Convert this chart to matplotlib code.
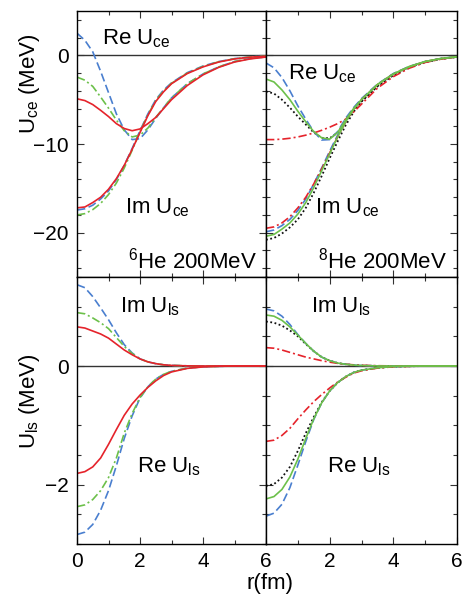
import matplotlib
matplotlib.use('Agg')
import matplotlib.pyplot as plt

plt.rcParams['font.family'] = ['Liberation Sans', 'DejaVu Sans']
plt.rcParams['mathtext.default'] = 'regular'

# radial grid (fm)
r = [0, 0.25, 0.5, 0.75, 1.0, 1.25, 1.5, 1.75, 2.0, 2.25, 2.5, 2.75,
     3.0, 3.5, 4.0, 4.5, 5.0, 5.5, 6.0]

# --- 6He, central part (MeV) ---
he6_re_ce_blue = [2.5, 1.7, 0.4, -1.8, -4.2, -6.6, -8.4, -9.5, -9.4, -8.4, -7.1, -5.9,
                  -4.8, -3.2, -2.1, -1.3, -0.7, -0.35, -0.17]
he6_re_ce_green = [-2.45, -2.8, -3.5, -4.7, -5.95, -7.3, -8.5, -9.2, -9.0, -8.2, -7.0, -5.9,
                   -4.8, -3.2, -2.1, -1.3, -0.7, -0.35, -0.17]
he6_re_ce_red = [-4.9, -5.1, -5.55, -6.2, -6.9, -7.7, -8.25, -8.5, -8.3, -7.7, -7.0, -6.0,
                 -5.0, -3.4, -2.2, -1.35, -0.75, -0.4, -0.19]
he6_im_ce_blue = [-17.45, -17.3, -16.9, -16.2, -15.3, -14.0, -12.4, -10.5, -8.5, -6.6, -5.0, -3.9,
                  -3.1, -1.95, -1.2, -0.7, -0.37, -0.18, -0.09]
he6_im_ce_green = [-18.0, -17.85, -17.4, -16.7, -15.7, -14.4, -12.7, -10.7, -8.6, -6.7, -5.1, -4.0,
                   -3.15, -2.0, -1.25, -0.72, -0.38, -0.18, -0.09]
he6_im_ce_red = [-17.2, -17.1, -16.6, -16.0, -15.1, -13.9, -12.4, -10.6, -8.7, -6.8, -5.2, -4.1,
                 -3.2, -2.05, -1.3, -0.75, -0.4, -0.2, -0.1]

# --- 8He, central part (MeV) ---
he8_re_ce_blue = [-0.86, -1.4, -2.5, -4.0, -5.7, -7.2, -8.6, -9.55, -9.5, -8.6, -7.1, -5.9,
                  -4.9, -3.3, -2.1, -1.3, -0.7, -0.35, -0.15]
he8_re_ce_green = [-2.67, -3.0, -3.9, -5.0, -6.3, -7.5, -8.6, -9.3, -9.45, -8.7, -7.3, -6.0,
                   -5.0, -3.3, -2.1, -1.25, -0.7, -0.35, -0.15]
he8_re_ce_black = [-4.07, -4.3, -5.0, -5.9, -6.9, -7.8, -8.7, -9.3, -9.35, -8.7, -7.5, -6.2,
                   -5.2, -3.5, -2.25, -1.35, -0.75, -0.4, -0.17]
he8_re_ce_red = [-9.5, -9.5, -9.45, -9.35, -9.2, -9.0, -8.75, -8.45, -8.1, -7.7, -7.2, -6.4,
                 -5.5, -3.7, -2.4, -1.45, -0.8, -0.42, -0.18]
he8_im_ce_blue = [-19.9, -19.7, -19.2, -18.5, -17.5, -16.2, -14.5, -12.7, -10.8, -9.0, -7.4, -6.0,
                  -4.9, -3.25, -2.05, -1.25, -0.7, -0.36, -0.16]
he8_im_ce_green = [-20.4, -20.2, -19.6, -18.9, -17.9, -16.6, -14.9, -13.0, -11.1, -9.2, -7.5, -6.1,
                   -5.0, -3.3, -2.1, -1.3, -0.7, -0.37, -0.17]
he8_im_ce_black = [-20.8, -20.6, -20.1, -19.4, -18.5, -17.2, -15.5, -13.6, -11.6, -9.7, -7.9, -6.4,
                   -5.2, -3.45, -2.2, -1.35, -0.75, -0.4, -0.18]
he8_im_ce_red = [-19.5, -19.35, -18.9, -18.2, -17.2, -16.0, -14.5, -12.8, -11.0, -9.2, -7.5, -6.1,
                 -5.0, -3.3, -2.1, -1.3, -0.7, -0.37, -0.17]

# --- 6He, spin-orbit part (MeV) ---
he6_im_ls_blue = [1.37, 1.32, 1.17, 0.98, 0.78, 0.56, 0.36, 0.22, 0.12, 0.07, 0.04, 0.02,
                  0.01, 0.003, 0.0, 0.0, 0.0, 0.0, 0.0]
he6_im_ls_green = [0.90, 0.88, 0.81, 0.73, 0.63, 0.48, 0.33, 0.21, 0.12, 0.07, 0.04, 0.02,
                   0.01, 0.003, 0.0, 0.0, 0.0, 0.0, 0.0]
he6_im_ls_red = [0.66, 0.64, 0.59, 0.54, 0.47, 0.37, 0.27, 0.19, 0.12, 0.07, 0.04, 0.02,
                 0.01, 0.003, 0.0, 0.0, 0.0, 0.0, 0.0]
he6_re_ls_blue = [-2.84, -2.8, -2.67, -2.43, -2.1, -1.68, -1.22, -0.84, -0.54, -0.35, -0.22, -0.14,
                  -0.09, -0.035, -0.013, -0.005, 0.0, 0.0, 0.0]
he6_re_ls_green = [-2.37, -2.34, -2.25, -2.1, -1.88, -1.55, -1.13, -0.8, -0.53, -0.35, -0.22, -0.14,
                   -0.09, -0.035, -0.013, -0.005, 0.0, 0.0, 0.0]
he6_re_ls_red = [-1.81, -1.78, -1.7, -1.55, -1.32, -1.07, -0.83, -0.64, -0.49, -0.36, -0.25, -0.16,
                 -0.1, -0.04, -0.015, -0.005, 0.0, 0.0, 0.0]

# --- 8He, spin-orbit part (MeV) ---
he8_im_ls_blue = [0.96, 0.93, 0.84, 0.7, 0.53, 0.38, 0.25, 0.15, 0.09, 0.05, 0.03, 0.015,
                  0.008, 0.002, 0.0, 0.0, 0.0, 0.0, 0.0]
he8_im_ls_green = [0.86, 0.84, 0.77, 0.66, 0.52, 0.38, 0.25, 0.15, 0.09, 0.05, 0.03, 0.015,
                   0.008, 0.002, 0.0, 0.0, 0.0, 0.0, 0.0]
he8_im_ls_black = [0.75, 0.73, 0.68, 0.6, 0.5, 0.37, 0.25, 0.15, 0.09, 0.05, 0.03, 0.015,
                   0.008, 0.002, 0.0, 0.0, 0.0, 0.0, 0.0]
he8_im_ls_red = [0.31, 0.30, 0.27, 0.23, 0.19, 0.15, 0.12, 0.09, 0.065, 0.045, 0.03, 0.02,
                 0.012, 0.005, 0.002, 0.0, 0.0, 0.0, 0.0]
he8_re_ls_blue = [-2.53, -2.48, -2.33, -2.05, -1.67, -1.27, -0.9, -0.62, -0.42, -0.28, -0.18, -0.11,
                  -0.07, -0.03, -0.01, -0.004, 0.0, 0.0, 0.0]
he8_re_ls_green = [-2.24, -2.2, -2.08, -1.87, -1.57, -1.22, -0.89, -0.62, -0.42, -0.28, -0.18, -0.11,
                   -0.07, -0.03, -0.01, -0.004, 0.0, 0.0, 0.0]
he8_re_ls_black = [-2.02, -1.99, -1.88, -1.7, -1.43, -1.13, -0.86, -0.61, -0.42, -0.28, -0.18, -0.11,
                   -0.07, -0.03, -0.01, -0.004, 0.0, 0.0, 0.0]
he8_re_ls_red = [-1.27, -1.25, -1.17, -1.05, -0.89, -0.74, -0.6, -0.48, -0.37, -0.27, -0.19, -0.12,
                 -0.08, -0.035, -0.013, -0.005, 0.0, 0.0, 0.0]

BLUE = '#4a7fcf'
GREEN = '#6cc04a'
RED = '#e5232b'
BLACK = '#111111'

st_blue = dict(color=BLUE, lw=1.2, dashes=(5, 2.2))
st_green_dd = dict(color=GREEN, lw=1.2, dashes=(5, 1.8, 1.2, 1.8))
st_green = dict(color=GREEN, lw=1.2, ls='-')
st_red = dict(color=RED, lw=1.2, ls='-')
st_red_dd = dict(color=RED, lw=1.2, dashes=(5, 1.8, 1.2, 1.8))
st_black = dict(color=BLACK, lw=1.3, dashes=(1, 1.4))

fig = plt.figure(figsize=(4.69, 6.03), dpi=100)
ax_tl = fig.add_axes([0.1642, 0.5406, 0.4030, 0.4411])
ax_tr = fig.add_axes([0.5672, 0.5406, 0.4072, 0.4411])
ax_bl = fig.add_axes([0.1642, 0.0978, 0.4030, 0.4428])
ax_br = fig.add_axes([0.5672, 0.0978, 0.4072, 0.4428])

# top left: 6He central
for y in [he6_re_ce_blue, he6_im_ce_blue]:
    ax_tl.plot(r, y, **st_blue)
for y in [he6_re_ce_green, he6_im_ce_green]:
    ax_tl.plot(r, y, **st_green_dd)
for y in [he6_re_ce_red, he6_im_ce_red]:
    ax_tl.plot(r, y, **st_red)

# top right: 8He central
for y in [he8_re_ce_black, he8_im_ce_black]:
    ax_tr.plot(r, y, **st_black)
for y in [he8_re_ce_blue, he8_im_ce_blue]:
    ax_tr.plot(r, y, **st_blue)
for y in [he8_re_ce_red, he8_im_ce_red]:
    ax_tr.plot(r, y, **st_red_dd)
for y in [he8_re_ce_green, he8_im_ce_green]:
    ax_tr.plot(r, y, **st_green)

# bottom left: 6He spin-orbit
for y in [he6_im_ls_blue, he6_re_ls_blue]:
    ax_bl.plot(r, y, **st_blue)
for y in [he6_im_ls_green, he6_re_ls_green]:
    ax_bl.plot(r, y, **st_green_dd)
for y in [he6_im_ls_red, he6_re_ls_red]:
    ax_bl.plot(r, y, **st_red)

# bottom right: 8He spin-orbit
for y in [he8_im_ls_black, he8_re_ls_black]:
    ax_br.plot(r, y, **st_black)
for y in [he8_im_ls_blue, he8_re_ls_blue]:
    ax_br.plot(r, y, **st_blue)
for y in [he8_im_ls_red, he8_re_ls_red]:
    ax_br.plot(r, y, **st_red_dd)
for y in [he8_im_ls_green, he8_re_ls_green]:
    ax_br.plot(r, y, **st_green)

for ax in [ax_tl, ax_tr]:
    ax.set_ylim(-25, 5)
    ax.set_yticks([-20, -10, 0])
    ax.set_yticks(range(-24, 5, 2), minor=True)
for ax in [ax_bl, ax_br]:
    ax.set_ylim(-3, 1.5)
    ax.set_yticks([-2, 0])
    ax.set_yticks([-3, -2.5, -1.5, -1, -0.5, 0.5, 1, 1.5], minor=True)

for ax in [ax_tl, ax_tr, ax_bl, ax_br]:
    ax.set_xlim(0, 6)
    ax.set_xticks([0, 2, 4, 6])
    ax.set_xticks([1, 3, 5], minor=True)
    ax.axhline(0, color='#333333', lw=1.0, zorder=0)
    ax.tick_params(which='both', direction='in', top=True, right=True,
                   labelsize=15, pad=6, color='#333333')
    ax.tick_params(which='major', length=5, width=0.8)
    ax.tick_params(which='minor', length=3, width=0.8)
    for s in ax.spines.values():
        s.set_linewidth(1.0)

ax_tl.tick_params(labelbottom=False)
ax_tr.tick_params(labelbottom=False, labelleft=False)
ax_br.tick_params(labelleft=False)
ax_br.set_xticks([2, 4, 6])
ax_br.set_xticks([0, 1, 3, 5], minor=True)

yticklab = lambda v: '\u2212' + str(abs(v)) if v < 0 else str(v)
ax_tl.set_yticklabels([yticklab(v) for v in [-20, -10, 0]])
ax_bl.set_yticklabels([yticklab(v) for v in [-2, 0]])

fs = 16
ax_tl.text(0.79, 1.2, 'Re U$_{ce}$', fontsize=fs, va='baseline')
ax_tl.text(1.52, -17.8, 'Im U$_{ce}$', fontsize=fs, va='baseline')
ax_tl.text(1.62, -24.0, '$^{6}$He 200MeV', fontsize=fs, va='baseline')
ax_tr.text(0.69, -2.75, 'Re U$_{ce}$', fontsize=fs, va='baseline')
ax_tr.text(1.55, -17.8, 'Im U$_{ce}$', fontsize=fs, va='baseline')
ax_tr.text(1.64, -24.0, '$^{8}$He 200MeV', fontsize=fs, va='baseline')
ax_bl.text(1.37, 0.9, 'Im U$_{ls}$', fontsize=fs, va='baseline')
ax_bl.text(1.9, -1.8, 'Re U$_{ls}$', fontsize=fs, va='baseline')
ax_br.text(1.42, 0.9, 'Im U$_{ls}$', fontsize=fs, va='baseline')
ax_br.text(1.92, -1.8, 'Re U$_{ls}$', fontsize=fs, va='baseline')

fig.text(30 / 469, 1 - 84 / 603, 'U$_{ce}$ (MeV)', rotation=90, fontsize=fs,
         ha='center', va='center')
fig.text(30 / 469, 1 - 401 / 603, 'U$_{ls}$ (MeV)', rotation=90, fontsize=fs,
         ha='center', va='center')
fig.text(270 / 469, 1 - 583 / 603, 'r(fm)', fontsize=fs, ha='center', va='center')

fig.savefig('out.png', dpi=100)
